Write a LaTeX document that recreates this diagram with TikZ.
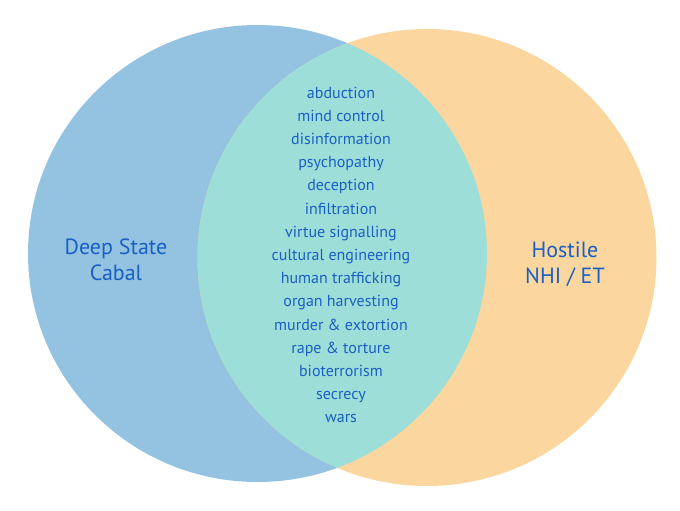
\documentclass[tikz,border=0pt]{standalone}
\usepackage{fontspec}
\setmainfont{PT Sans}
\definecolor{lblue}{HTML}{93C3E1}
\definecolor{lorange}{HTML}{FBD79F}
\definecolor{lteal}{HTML}{9EDED9}
\definecolor{tblue}{HTML}{1A5FC4}
\begin{document}
\begin{tikzpicture}[x=1pt,y=-1pt,
  lst/.style={text=tblue,font=\fontsize{16}{23.2}\selectfont,align=center,inner sep=0pt},
  big/.style={text=tblue,font=\fontsize{22}{26}\selectfont,align=center,inner sep=0pt}]
\useasboundingbox (0,0) rectangle (680,511);
\coordinate (cl) at (257.5,253.5);
\coordinate (cr) at (427,257.5);
\fill[lblue] (cl) circle (229.5 and 228.5);
\fill[lorange] (cr) circle (229.5 and 228.5);
\begin{scope}
\clip (cl) circle (229.5 and 228.5);
\fill[lteal] (cr) circle (229.5 and 228.5);
\end{scope}
\node[lst] (mid) at (341,255) {abduction\\mind control\\disinformation\\psychopathy\\deception\\infiltration\\virtue signalling\\cultural engineering\\human trafficking\\organ harvesting\\murder \& extortion\\rape \& torture\\bioterrorism\\secrecy\\wars};
\node[big] (ds) at (116,260) {Deep State\\Cabal};
\node[big] (ho) at (565,264) {Hostile\\NHI / ET};
\end{tikzpicture}
\end{document}
